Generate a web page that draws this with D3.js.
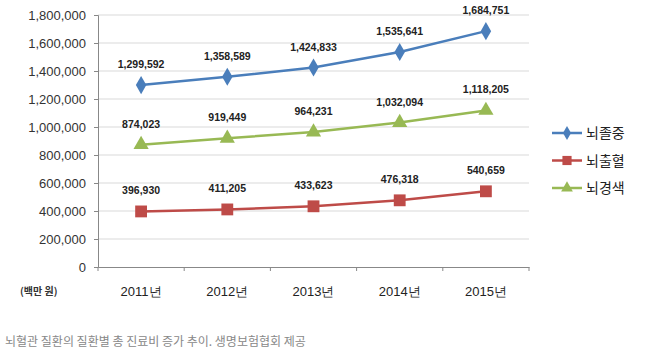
<!DOCTYPE html>
<html>
<head>
<meta charset="utf-8">
<script src="https://cdn.jsdelivr.net/npm/d3@7"></script>
<style>
body { margin: 0; background: #fff; }
svg { font-family: "Noto Sans CJK KR", "Noto Sans", sans-serif; }
</style>
</head>
<body>
<svg id="chart" width="650" height="363"></svg>
<script>
var years = ['2011년', '2012년', '2013년', '2014년', '2015년'];
var stroke = [1299592, 1358589, 1424833, 1535641, 1684751];   // 뇌졸중
var hemorrhage = [396930, 411205, 433623, 476318, 540659];     // 뇌출혈
var infarction = [874023, 919449, 964231, 1032094, 1118205];   // 뇌경색
var yTicks = [0, 200000, 400000, 600000, 800000, 1000000, 1200000, 1400000, 1600000, 1800000];

var series = [
    {name: '뇌졸중', values: stroke, color: '#4a7ebb', shape: d3.symbolDiamond, size: 95},
    {name: '뇌출혈', values: hemorrhage, color: '#be4b48', shape: d3.symbolSquare, size: 140},
    {name: '뇌경색', values: infarction, color: '#98b954', shape: d3.symbolTriangle, size: 100}
];

var svg = d3.select('#chart');
// plot box (don't name these "top": clashes with window.top)
var plotLeft = 98, plotRight = 529, plotTop = 15, plotBottom = 267;

var x = d3.scaleBand().domain(years).range([plotLeft, plotRight]);
var y = d3.scaleLinear().domain([0, 1800000]).range([plotBottom, plotTop]);
var fmt = d3.format(',');

// gridlines
svg.append('g').selectAll('line').data(yTicks.slice(1)).enter().append('line')
    .attr('x1', plotLeft).attr('x2', plotRight)
    .attr('y1', function(d) { return y(d); }).attr('y2', function(d) { return y(d); })
    .attr('stroke', '#d9d9d9').attr('stroke-width', 1);

// y axis
var yAxis = svg.append('g').attr('transform', 'translate(' + plotLeft + ',0)')
    .call(d3.axisLeft(y).tickValues(yTicks).tickFormat(fmt).tickSize(4).tickPadding(8));
yAxis.select('.domain').attr('stroke', '#888');
yAxis.selectAll('.tick line').attr('stroke', '#888');
yAxis.selectAll('text').attr('font-size', 13).attr('fill', '#333')
    .attr('font-family', '"Liberation Sans", Arial, sans-serif');

// x axis
var xAxis = svg.append('g').attr('transform', 'translate(0,' + plotBottom + ')')
    .call(d3.axisBottom(x).tickSize(0).tickPadding(20));
xAxis.select('.domain').attr('stroke', '#888');
xAxis.selectAll('text').attr('font-size', 13).attr('fill', '#222');
xAxis.selectAll('.sep').data(x.domain().concat(['end'])).enter().append('line')
    .attr('x1', function(d, i) { return plotLeft + i * x.bandwidth(); })
    .attr('x2', function(d, i) { return plotLeft + i * x.bandwidth(); })
    .attr('y1', 0).attr('y2', 4).attr('stroke', '#888');

svg.append('text').attr('x', 20).attr('y', 295).attr('font-size', 10).attr('font-weight', 'bold')
    .attr('fill', '#333').text('(백만 원)');

var line = d3.line()
    .x(function(d, i) { return x(years[i]) + x.bandwidth() / 2; })
    .y(function(d) { return y(d); });

series.forEach(function(s) {
    var g = svg.append('g');
    g.append('path').datum(s.values).attr('d', line)
        .attr('fill', 'none').attr('stroke', s.color).attr('stroke-width', 2.5);
    g.selectAll('path.pt').data(s.values).enter().append('path').attr('class', 'pt')
        .attr('d', d3.symbol().type(s.shape).size(s.size))
        .attr('transform', function(d, i) {
            return 'translate(' + (x(years[i]) + x.bandwidth() / 2) + ',' + y(d) + ')';
        })
        .attr('fill', s.color);
    g.selectAll('text').data(s.values).enter().append('text')
        .attr('x', function(d, i) { return x(years[i]) + x.bandwidth() / 2; })
        .attr('y', function(d) { return y(d) - 17; })
        .attr('text-anchor', 'middle').attr('font-size', 10.5).attr('font-weight', 'bold')
        .attr('font-family', '"Liberation Sans", Arial, sans-serif')
        .attr('fill', '#222').text(function(d) { return fmt(d); });
});

// legend
var legend = svg.append('g').attr('transform', 'translate(552,133)');
series.forEach(function(s, i) {
    var row = legend.append('g').attr('transform', 'translate(0,' + (i * 27.5) + ')');
    row.append('line').attr('x1', 0).attr('x2', 30).attr('stroke', s.color).attr('stroke-width', 2.5);
    row.append('path').attr('d', d3.symbol().type(s.shape).size(s.size * 0.6))
        .attr('transform', 'translate(15,0)').attr('fill', s.color);
    row.append('text').attr('x', 34).attr('y', 5).attr('font-size', 14).attr('fill', '#222').text(s.name);
});

svg.append('text').attr('x', 5).attr('y', 346).attr('font-size', 12).attr('fill', '#888')
    .text('뇌혈관 질환의 질환별 총 진료비 증가 추이. 생명보험협회 제공');
</script>
</body>
</html>
